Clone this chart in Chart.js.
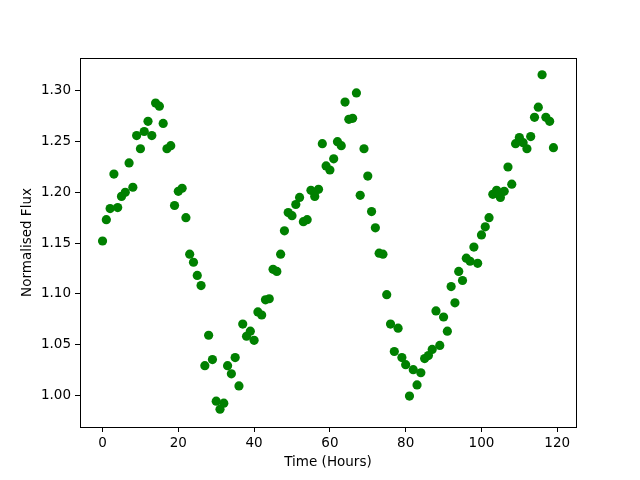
<!DOCTYPE html>
<html>
<head>
<meta charset="utf-8">
<script src="https://cdn.jsdelivr.net/npm/chart.js@4/dist/chart.umd.min.js"></script>
<style>
  html, body { margin: 0; padding: 0; background: #fff; }
  #wrap { position: relative; width: 640px; height: 480px; }
</style>
</head>
<body>
<div id="wrap"><canvas id="chart" width="640" height="480"></canvas></div>
<script>
// hours since start
const hours = [
  0, 1, 2, 3, 4, 5, 6, 7, 8, 9, 10, 11, 12, 13, 14, 15, 16, 17, 18, 19,
  20, 21, 22, 23, 24, 25, 26, 27, 28, 29, 30, 31, 32, 33, 34, 35, 36, 37, 38, 39,
  40, 41, 42, 43, 44, 45, 46, 47, 48, 49, 50, 51, 52, 53, 54, 55, 56, 57, 58, 59,
  60, 61, 62, 63, 64, 65, 66, 67, 68, 69, 70, 71, 72, 73, 74, 75, 76, 77, 78, 79,
  80, 81, 82, 83, 84, 85, 86, 87, 88, 89, 90, 91, 92, 93, 94, 95, 96, 97, 98, 99,
  100, 101, 102, 103, 104, 105, 106, 107, 108, 109, 110, 111, 112, 113, 114, 115, 116, 117, 118, 119
];

// normalised flux
const flux = [
  1.152, 1.173, 1.184, 1.218, 1.185, 1.196, 1.200, 1.229, 1.205, 1.256,
  1.243, 1.260, 1.270, 1.256, 1.288, 1.285, 1.268, 1.243, 1.246, 1.187,
  1.201, 1.204, 1.175, 1.139, 1.131, 1.118, 1.108, 1.029, 1.059, 1.035,
  0.994, 0.986, 0.992, 1.029, 1.021, 1.037, 1.009, 1.070, 1.058, 1.063,
  1.054, 1.082, 1.079, 1.094, 1.095, 1.124, 1.122, 1.139, 1.162, 1.180,
  1.177, 1.188, 1.195, 1.171, 1.173, 1.202, 1.196, 1.203, 1.248, 1.226,
  1.222, 1.233, 1.250, 1.246, 1.289, 1.272, 1.273, 1.298, 1.197, 1.243,
  1.216, 1.181, 1.165, 1.140, 1.139, 1.099, 1.070, 1.043, 1.066, 1.037,
  1.030, 0.999, 1.025, 1.010, 1.022, 1.036, 1.039, 1.045, 1.083, 1.049,
  1.077, 1.063, 1.107, 1.091, 1.122, 1.113, 1.135, 1.132, 1.146, 1.130,
  1.158, 1.166, 1.175, 1.198, 1.202, 1.195, 1.201, 1.225, 1.208, 1.248,
  1.254, 1.249, 1.243, 1.255, 1.274, 1.284, 1.316, 1.274, 1.270, 1.244
];

const xTicks = [0, 20, 40, 60, 80, 100, 120];
const yTicks = [1.00, 1.05, 1.10, 1.15, 1.20, 1.25, 1.30];

const font = { family: 'DejaVu Sans', size: 13.5 };

// full box around the plot, like matplotlib spines
const frame = {
  id: 'frame',
  afterDraw(chart) {
    const { ctx, chartArea: a } = chart;
    ctx.save();
    ctx.strokeStyle = '#000';
    ctx.lineWidth = 1;
    ctx.strokeRect(Math.round(a.left) + 0.5, Math.round(a.top) + 0.5,
      Math.round(a.right - a.left), Math.round(a.bottom - a.top));
    ctx.restore();
  }
};

new Chart(document.getElementById('chart').getContext('2d'), {
  type: 'scatter',
  data: {
    datasets: [{
      data: hours.map((h, i) => ({ x: h, y: flux[i] })),
      backgroundColor: '#008000',
      borderWidth: 0,
      pointRadius: 4.6,
      pointHoverRadius: 4.6
    }]
  },
  options: {
    responsive: false,
    animation: false,
    layout: { padding: { top: 58, right: 64, left: 0, bottom: 0 } },
    plugins: { legend: { display: false }, tooltip: { enabled: false } },
    scales: {
      x: {
        type: 'linear',
        min: -5.95,
        max: 124.95,
        afterBuildTicks: s => { s.ticks = xTicks.map(v => ({ value: v })); },
        afterFit: s => { s.height = 53; },
        grid: { drawOnChartArea: false, drawTicks: true, tickLength: 5, color: '#000' },
        border: { color: '#000' },
        ticks: { color: '#000', font, padding: 3, maxRotation: 0, callback: v => v },
        title: { display: true, text: 'Time (Hours)', color: '#000', font, padding: { top: 0, bottom: 9 } }
      },
      y: {
        min: 0.9685,
        max: 1.3325,
        afterBuildTicks: s => { s.ticks = yTicks.map(v => ({ value: v })); },
        afterFit: s => { s.width = 80; },
        grid: { drawOnChartArea: false, drawTicks: true, tickLength: 5, color: '#000' },
        border: { color: '#000' },
        ticks: { color: '#000', font, padding: 4, callback: v => v.toFixed(2) },
        title: { display: true, text: 'Normalised Flux', color: '#000', font, padding: { top: 19, bottom: 0 } }
      }
    }
  },
  plugins: [frame]
});
</script>
</body>
</html>
